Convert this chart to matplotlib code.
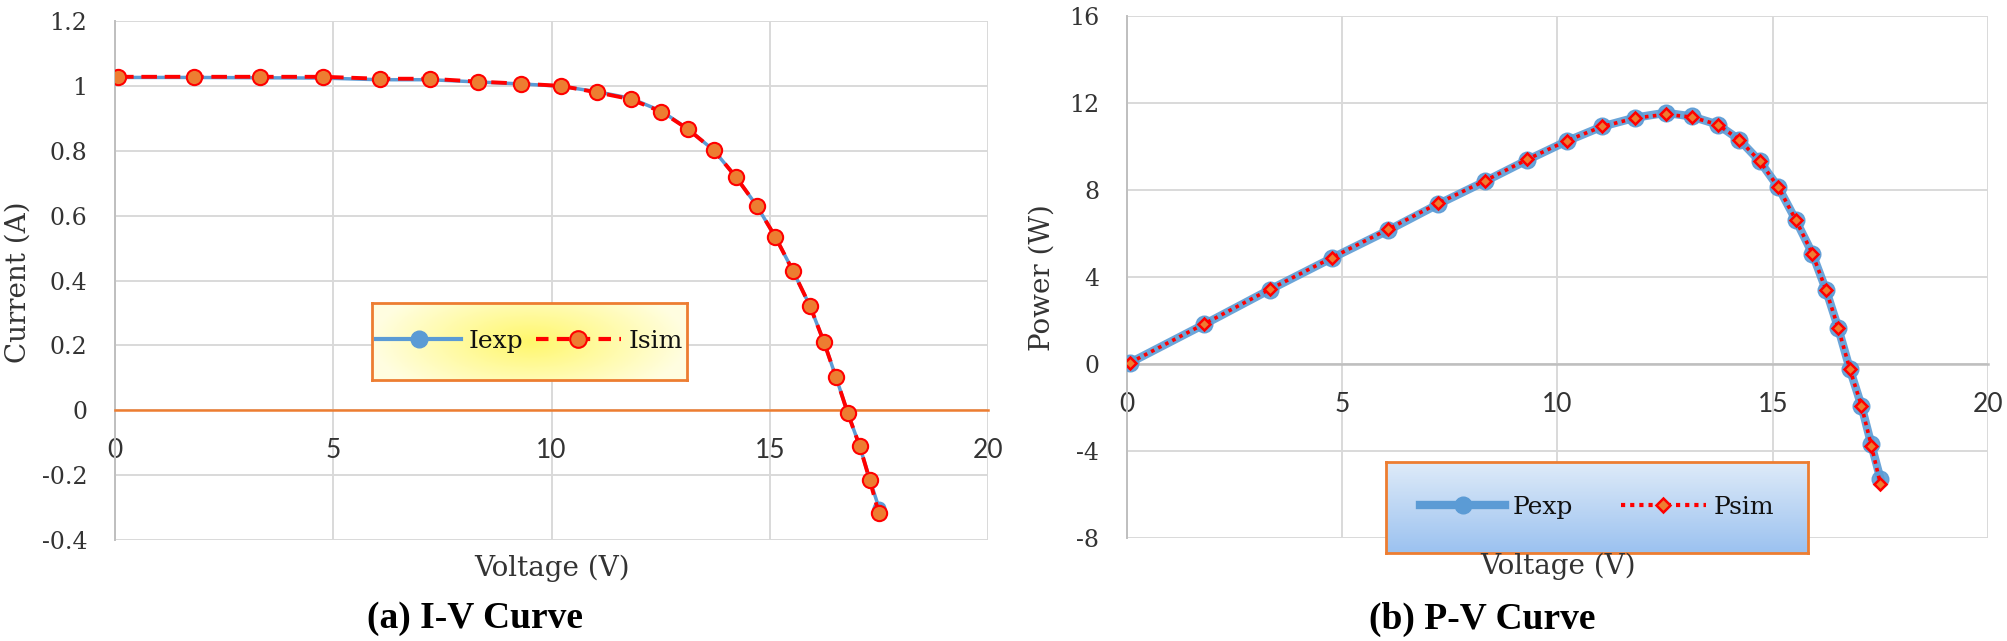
import numpy as np
import matplotlib
matplotlib.use("Agg")
import matplotlib.pyplot as plt
from matplotlib.lines import Line2D

plt.rcParams["axes.unicode_minus"] = False

# data
v = [0.07, 1.80, 3.32, 4.76, 6.07, 7.22, 8.32, 9.30, 10.21, 11.04, 11.81, 12.52,
     13.12, 13.72, 14.22, 14.70, 15.13, 15.53, 15.92, 16.24, 16.52, 16.79, 17.06,
     17.29, 17.50]
i_exp = [1.026, 1.026, 1.025, 1.024, 1.019, 1.019, 1.012, 1.006, 0.999, 0.982, 0.962,
         0.922, 0.868, 0.801, 0.720, 0.631, 0.534, 0.430, 0.322, 0.211, 0.101, -0.010,
         -0.110, -0.213, -0.300]
i_sim = [1.028, 1.028, 1.028, 1.028, 1.022, 1.022, 1.013, 1.007, 1.000, 0.980, 0.959,
         0.920, 0.867, 0.801, 0.720, 0.631, 0.534, 0.430, 0.322, 0.211, 0.101, -0.010,
         -0.110, -0.215, -0.318]
p_exp = [0.06, 1.83, 3.42, 4.87, 6.15, 7.34, 8.40, 9.38, 10.24, 10.92, 11.33, 11.55,
         11.38, 11.01, 10.32, 9.32, 8.13, 6.64, 5.08, 3.39, 1.66, -0.23, -1.92,
         -3.70, -5.27]
p_sim = [0.06, 1.85, 3.44, 4.89, 6.20, 7.38, 8.43, 9.41, 10.26, 10.92, 11.31, 11.48,
         11.35, 11.01, 10.32, 9.32, 8.13, 6.64, 5.08, 3.39, 1.66, -0.23, -1.92,
         -3.75, -5.50]

fig = plt.figure(figsize=(20.08, 6.41), dpi=100)
W, H = 2008, 641

serif = "DejaVu Serif"
grid_c = "#d9d9d9"
blue = "#5b9bd5"
orange = "#ed7d31"
text_c = "#333333"


def style_axes(ax, xlim, ylim, yticks, zero_color):
    ax.set_xlim(*xlim)
    ax.set_ylim(*ylim)
    ax.set_xticks(np.arange(0, 21, 5))
    ax.set_yticks(yticks)
    ax.grid(True, color=grid_c, lw=1.4, zorder=0)
    ax.set_axisbelow(True)
    for s in ["top", "right"]:
        ax.spines[s].set_visible(False)
    ax.spines["left"].set_color("#bfbfbf")
    ax.spines["left"].set_linewidth(1.4)
    ax.spines["bottom"].set_position(("data", 0))
    ax.spines["bottom"].set_color(zero_color)
    ax.spines["bottom"].set_linewidth(1.8)
    ax.tick_params(axis="both", length=0)
    ax.tick_params(axis="x", pad=20, labelsize=19, labelcolor=text_c)
    ax.tick_params(axis="y", pad=20, labelsize=17, labelcolor=text_c)
    for t in ax.get_xticklabels():
        t.set_fontfamily("Lato")
    for t in ax.get_yticklabels():
        t.set_fontfamily(serif)


def legend_box(rect, kind, handles, labels, colsp):
    lax = fig.add_axes(rect)
    if kind == "yellow":
        xx, yy = np.meshgrid(np.linspace(-1, 1, 200), np.linspace(-1, 1, 60))
        r = np.clip(np.sqrt(xx ** 2 + (yy * 0.6) ** 2), 0, 1)
        c0 = np.array([1.0, 0.97, 0.42])
        c1 = np.array([1.0, 0.995, 0.88])
        img = c0 + (c1 - c0) * r[..., None]
    else:
        t = np.linspace(0, 1, 60)[:, None, None] * np.ones((1, 200, 1))
        c0 = np.array([0.87, 0.92, 0.975])
        c1 = np.array([0.61, 0.76, 0.94])
        img = c0 + (c1 - c0) * t
    lax.imshow(img, aspect="auto", extent=(0, 1, 0, 1))
    lax.set_xticks([])
    lax.set_yticks([])
    for s in lax.spines.values():
        s.set_color(orange)
        s.set_linewidth(2)
    lax.legend(handles, labels, loc="center", ncol=2, frameon=False,
               prop={"family": serif, "size": 18}, handlelength=3.4,
               columnspacing=colsp, handletextpad=0.3, labelcolor="#111111")


# (a) I-V curve
ax1 = fig.add_axes([115 / W, 1 - 540 / H, 873 / W, 519 / H])
style_axes(ax1, (0, 20), (-0.4, 1.2), np.arange(-0.4, 1.21, 0.2), orange)
ax1.set_yticklabels(["-0.4", "-0.2", "0", "0.2", "0.4", "0.6", "0.8", "1", "1.2"])
ax1.plot(v, i_exp, color=blue, lw=2.5, marker="o", ms=9, mfc=blue, mec=blue, zorder=3)
ax1.plot(v, i_sim, color="red", lw=2.8, ls=(0, (4, 2)), marker="o", ms=11,
         mfc=orange, mec="red", mew=1.5, zorder=4)

# (b) P-V curve
ax2 = fig.add_axes([1127 / W, 1 - 538 / H, 861 / W, 522 / H])
style_axes(ax2, (0, 20), (-8, 16), np.arange(-8, 17, 4), "#bfbfbf")
ax2.plot(v, p_exp, color=blue, lw=6, marker="o", ms=12, mfc=blue, mec=blue,
         alpha=0.9, zorder=3)
ax2.plot(v, p_sim, color="red", lw=2.6, ls=(0, (1, 1.2)), marker="D", ms=6,
         mfc=orange, mec="red", mew=1.8, zorder=4)

# legends with gradient fills
h_iexp = Line2D([], [], color=blue, lw=3, marker="o", ms=12, mfc=blue, mec=blue)
h_isim = Line2D([], [], color="red", lw=3, ls=(0, (3, 2)), marker="o", ms=12,
                mfc=orange, mec="red", mew=1.5)
legend_box([372 / W, 1 - 380 / H, 315 / W, 77 / H], "yellow",
           [h_iexp, h_isim], ["Iexp", "Isim"], 0.5)

h_pexp = Line2D([], [], color=blue, lw=6, marker="o", ms=12, mfc=blue, mec=blue)
h_psim = Line2D([], [], color="red", lw=3, ls=(0, (1, 1.2)), marker="D", ms=7,
                mfc=orange, mec="red", mew=1.8)
legend_box([1386 / W, 1 - 553 / H, 422 / W, 91 / H], "blue",
           [h_pexp, h_psim], ["Pexp", "Psim"], 1.9)

# axis labels and captions
fig.text(552 / W, 1 - 568 / H, "Voltage (V)", ha="center", va="center",
         family=serif, size=20, color=text_c)
fig.text(1558 / W, 1 - 566 / H, "Voltage (V)", ha="center", va="center",
         family=serif, size=20, color=text_c, zorder=0)
fig.text(18 / W, 1 - 282 / H, "Current (A)", ha="center", va="center",
         rotation=90, family=serif, size=20, color=text_c)
fig.text(1042 / W, 1 - 278 / H, "Power (W)", ha="center", va="center",
         rotation=90, family=serif, size=20, color=text_c)
fig.text(475 / W, 1 - 619 / H, "(a) I-V Curve", ha="center", va="center",
         family="Liberation Serif", size=27, weight="bold")
fig.text(1482 / W, 1 - 619 / H, "(b) P-V Curve", ha="center", va="center",
         family="Liberation Serif", size=27, weight="bold")

fig.savefig("out.png", dpi=100)
